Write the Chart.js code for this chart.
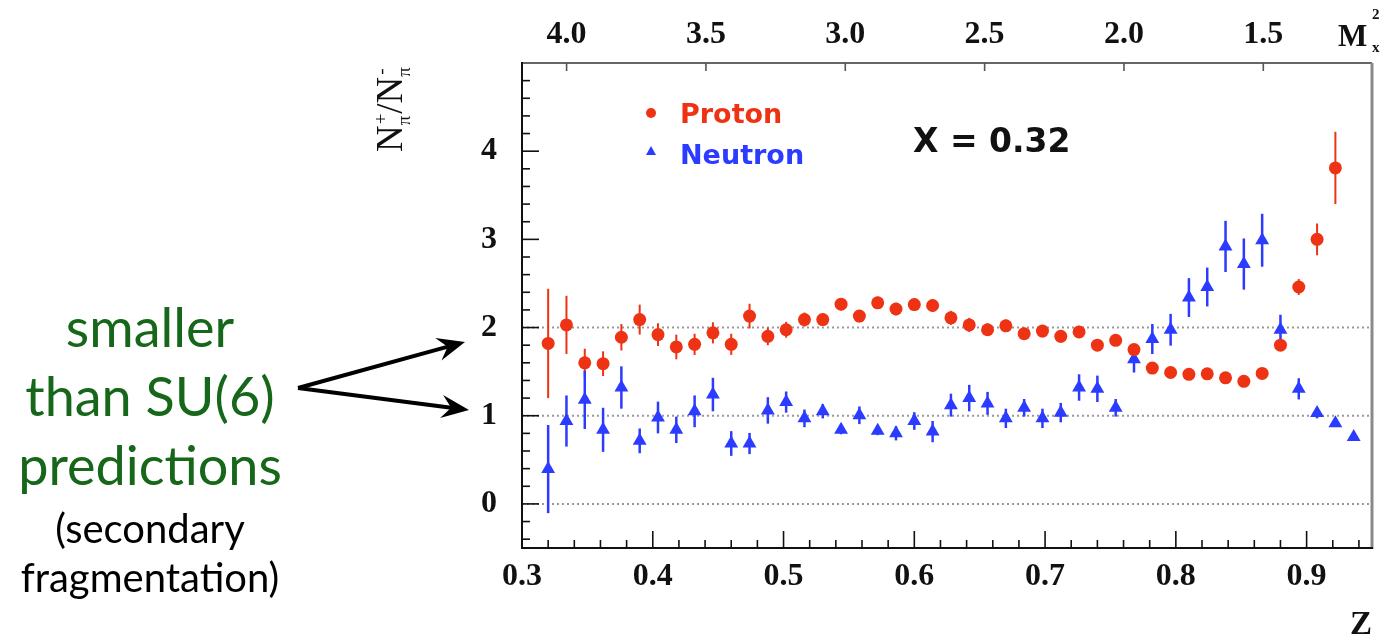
<!DOCTYPE html>
<html>
<head>
<meta charset="utf-8">
<script src="https://cdn.jsdelivr.net/npm/chart.js"></script>
<style>
  html, body { margin: 0; padding: 0; background: #fff; }
</style>
</head>
<body>
<canvas id="ratioChart" width="1386" height="640"></canvas>

<script>
// z bin centres
var zBins = [0.320, 0.334, 0.348, 0.362, 0.376, 0.390, 0.404, 0.418, 0.432, 0.446,
             0.460, 0.474, 0.488, 0.502, 0.516, 0.530, 0.544, 0.558, 0.572, 0.586,
             0.600, 0.614, 0.628, 0.642, 0.656, 0.670, 0.684, 0.698, 0.712, 0.726,
             0.740, 0.754, 0.768, 0.782, 0.796, 0.810, 0.824, 0.838, 0.852, 0.866,
             0.880, 0.894, 0.908, 0.922, 0.936];

// N(pi+)/N(pi-) for the proton target
var protonRatio = [1.82, 2.03, 1.60, 1.59, 1.89, 2.09, 1.92, 1.78, 1.81, 1.94,
                   1.81, 2.13, 1.90, 1.975, 2.09, 2.09, 2.265, 2.13, 2.28, 2.21,
                   2.26, 2.25, 2.11, 2.03, 1.975, 2.02, 1.93, 1.96, 1.90, 1.95,
                   1.80, 1.855, 1.75, 1.54, 1.49, 1.47, 1.475, 1.43, 1.39, 1.48,
                   1.80, 2.46, 3.00, 3.81];
var protonErr = [0.62, 0.33, 0.16, 0.14, 0.15, 0.17, 0.13, 0.14, 0.12, 0.12,
                 0.12, 0.14, 0.10, 0.09, 0.08, 0.07, 0.07, 0.07, 0.07, 0.07,
                 0.07, 0.07, 0.08, 0.08, 0.07, 0.07, 0.07, 0.07, 0.07, 0.07,
                 0.06, 0.06, 0.06, 0.05, 0.05, 0.05, 0.05, 0.05, 0.05, 0.05,
                 0.06, 0.09, 0.18, 0.41];

// N(pi+)/N(pi-) for the neutron
var neutronRatio = [0.395, 0.94, 1.18, 0.84, 1.32, 0.715, 0.98, 0.84, 1.05, 1.24,
                    0.685, 0.685, 1.06, 1.155, 0.97, 1.05, 0.84, 1.005, 0.83, 0.80,
                    0.94, 0.82, 1.12, 1.20, 1.14, 0.97, 1.09, 0.97, 1.035, 1.32,
                    1.305, 1.09, 1.64, 1.87, 1.975, 2.34, 2.46, 2.92, 2.72, 2.99,
                    1.975, 1.305, 1.03, 0.915, 0.76];
var neutronErr = [0.50, 0.29, 0.33, 0.25, 0.24, 0.14, 0.18, 0.15, 0.18, 0.19,
                  0.14, 0.12, 0.15, 0.12, 0.10, 0.08, 0.05, 0.10, 0.05, 0.08,
                  0.10, 0.12, 0.13, 0.15, 0.13, 0.11, 0.10, 0.11, 0.11, 0.15,
                  0.15, 0.10, 0.15, 0.17, 0.18, 0.22, 0.22, 0.29, 0.29, 0.30,
                  0.17, 0.12, 0.06, 0.04, 0.03];

var zTicks = [0.3, 0.4, 0.5, 0.6, 0.7, 0.8, 0.9];
var ratioTicks = [0, 1, 2, 3, 4];
var mxTicks = [4.0, 3.5, 3.0, 2.5, 2.0, 1.5];
var refLines = [0, 1, 2];

var RED = '#ee3314';
var BLUE = '#2b3bff';
var GREEN = '#16671a';
var serif = '"Liberation Serif", "Times New Roman", serif';

function line(ctx, x1, y1, x2, y2) {
    ctx.beginPath();
    ctx.moveTo(x1, y1);
    ctx.lineTo(x2, y2);
    ctx.stroke();
}

function errorBars(ctx, xs, ys, vals, errs, color, width) {
    ctx.save();
    ctx.strokeStyle = color;
    ctx.lineWidth = width;
    for (var i = 0; i < vals.length; i++) {
        var px = xs.getPixelForValue(zBins[i]);
        line(ctx, px, ys.getPixelForValue(vals[i] - errs[i]), px, ys.getPixelForValue(vals[i] + errs[i]));
    }
    ctx.restore();
}

function arrow(ctx, x1, y1, x2, y2) {
    var ang = Math.atan2(y2 - y1, x2 - x1);
    var len = 30, spread = 0.40;
    ctx.beginPath();
    ctx.moveTo(x1, y1);
    ctx.lineTo(x2 - Math.cos(ang) * 12, y2 - Math.sin(ang) * 12);
    ctx.stroke();
    ctx.beginPath();
    ctx.moveTo(x2, y2);
    ctx.lineTo(x2 - len * Math.cos(ang - spread), y2 - len * Math.sin(ang - spread));
    ctx.lineTo(x2 - 18 * Math.cos(ang), y2 - 18 * Math.sin(ang));
    ctx.lineTo(x2 - len * Math.cos(ang + spread), y2 - len * Math.sin(ang + spread));
    ctx.closePath();
    ctx.fill();
}

var decor = {
    id: 'decor',
    beforeDatasetsDraw: function(chart) {
        var ctx = chart.ctx, a = chart.chartArea, x = chart.scales.x, y = chart.scales.y;
        // dotted reference lines
        ctx.save();
        ctx.strokeStyle = '#999';
        ctx.lineWidth = 2;
        ctx.setLineDash([2, 3]);
        refLines.forEach(function(v) {
            var py = y.getPixelForValue(v);
            line(ctx, a.left, py, a.right, py);
        });
        ctx.restore();
        errorBars(ctx, x, y, protonRatio, protonErr, RED, 2);
        errorBars(ctx, x, y, neutronRatio, neutronErr, BLUE, 2.5);
    },
    afterDraw: function(chart) {
        var ctx = chart.ctx, a = chart.chartArea;
        var x = chart.scales.x, y = chart.scales.y, x2 = chart.scales.x2;
        ctx.save();

        // frame
        ctx.lineWidth = 2;
        ctx.strokeStyle = '#666';
        line(ctx, a.left, a.top, a.right, a.top);
        ctx.strokeStyle = '#8a8a8a';
        ctx.lineWidth = 3;
        line(ctx, a.right, a.top, a.right, a.bottom + 1);
        ctx.strokeStyle = '#111';
        ctx.lineWidth = 2;
        line(ctx, a.left, a.top - 1, a.left, a.bottom + 1);
        line(ctx, a.left - 1, a.bottom, a.right + 1, a.bottom);

        // inward ticks, bottom axis
        ctx.lineWidth = 1.6;
        for (var k = 0; k <= 32; k++) {
            var zv = 0.3 + k * 0.02;
            if (zv > x.max + 1e-9) break;
            var px = x.getPixelForValue(zv);
            var major = (k % 5 === 0);
            line(ctx, px, a.bottom, px, a.bottom - (major ? 17 : 8));
        }
        // inward ticks, left axis
        for (var m = -2; m <= 24; m++) {
            var yv = m * 0.2;
            var py = y.getPixelForValue(yv);
            var maj = (m % 5 === 0);
            line(ctx, a.left, py, a.left + (maj ? 17 : 8), py);
        }
        // top axis ticks
        ctx.strokeStyle = '#555';
        mxTicks.forEach(function(v) {
            var p = x2.getPixelForValue(v);
            line(ctx, p, a.top, p, a.top + 8);
        });

        // axis titles
        ctx.fillStyle = '#111';
        ctx.textBaseline = 'alphabetic';
        ctx.textAlign = 'center';
        ctx.font = 'bold 33px ' + serif;
        ctx.fillText('Z', 1361, 634);
        ctx.textAlign = 'left';
        ctx.font = 'bold 31px ' + serif;
        ctx.fillText('M', 1338, 46);
        ctx.font = 'bold 15px ' + serif;
        ctx.fillText('2', 1372, 19);
        ctx.fillText('x', 1372, 52);

        // rotated y title: N_pi^+ / N_pi^-
        ctx.save();
        ctx.translate(402, 152);
        ctx.rotate(-Math.PI / 2);
        var big = '37px ' + serif, small = '19px ' + serif;
        var u = 0;
        ctx.font = big; ctx.fillText('N', u, 0); u += ctx.measureText('N').width;
        ctx.font = small; ctx.fillText('\u03c0', u, 8);
        ctx.fillText('+', u + 1, -15); u += ctx.measureText('\u03c0').width + 2;
        ctx.font = big; ctx.fillText('/', u, 0); u += ctx.measureText('/').width;
        ctx.fillText('N', u, 0); u += ctx.measureText('N').width;
        ctx.font = small; ctx.fillText('\u03c0', u, 8);
        ctx.fillText('-', u + 2, -15);
        ctx.restore();

        // legend
        ctx.fillStyle = RED;
        ctx.beginPath();
        ctx.arc(651, 113, 5, 0, Math.PI * 2);
        ctx.fill();
        ctx.font = 'bold 27px "DejaVu Sans", sans-serif';
        ctx.fillText('Proton', 680, 123);
        ctx.fillStyle = BLUE;
        ctx.beginPath();
        ctx.moveTo(651, 146);
        ctx.lineTo(656, 155);
        ctx.lineTo(646, 155);
        ctx.closePath();
        ctx.fill();
        ctx.fillText('Neutron', 680, 164);

        ctx.fillStyle = '#111';
        ctx.font = 'bold 33px "DejaVu Sans", sans-serif';
        ctx.fillText('X = 0.32', 913, 152);

        // side note and arrows
        ctx.textAlign = 'center';
        ctx.fillStyle = GREEN;
        ctx.font = '54px Lato, "Open Sans", sans-serif';
        ctx.fillText('smaller', 150, 347);
        ctx.fillText('than SU(6)', 150, 416);
        ctx.fillText('predictions', 150, 485);
        ctx.fillStyle = '#000';
        ctx.font = '40px Lato, "Open Sans", sans-serif';
        ctx.fillText('(secondary', 150, 543);
        ctx.fillText('fragmentation)', 150, 592);

        ctx.strokeStyle = '#000';
        ctx.fillStyle = '#000';
        ctx.lineWidth = 4;
        arrow(ctx, 298, 388, 465, 342);
        arrow(ctx, 298, 388, 469, 410);

        ctx.restore();
    }
};

var tickFont = { family: serif, size: 32, weight: 'bold' };

var ctx = document.getElementById('ratioChart').getContext('2d');
var chart = new Chart(ctx, {
    type: 'scatter',
    data: {
        datasets: [{
            label: 'Proton',
            data: protonRatio.map(function(v, i) { return { x: zBins[i], y: v }; }),
            pointStyle: 'circle',
            pointRadius: 6.5,
            pointHoverRadius: 6.5,
            backgroundColor: RED,
            borderColor: RED,
            borderWidth: 0
        }, {
            label: 'Neutron',
            data: neutronRatio.map(function(v, i) { return { x: zBins[i], y: v }; }),
            pointStyle: 'triangle',
            pointRadius: 8,
            pointHoverRadius: 8,
            backgroundColor: BLUE,
            borderColor: BLUE,
            borderWidth: 0
        }]
    },
    options: {
        responsive: false,
        animation: false,
        devicePixelRatio: 1,
        layout: { padding: { left: 0, right: 14, top: 0, bottom: 0 } },
        plugins: {
            legend: { display: false },
            tooltip: { enabled: false }
        },
        scales: {
            x: {
                type: 'linear',
                position: 'bottom',
                min: 0.3,
                max: 0.95,
                grid: { display: false, drawTicks: false },
                border: { display: false },
                afterBuildTicks: function(s) { s.ticks = zTicks.map(function(v) { return { value: v }; }); },
                afterFit: function(s) { s.height = 92; },
                ticks: {
                    font: tickFont,
                    color: '#111',
                    padding: 10,
                    maxRotation: 0,
                    callback: function(v) { return Number(v).toFixed(1); }
                }
            },
            x2: {
                type: 'linear',
                axis: 'x',
                position: 'top',
                reverse: true,
                min: 1.11,
                max: 4.16,
                grid: { display: false, drawTicks: false },
                border: { display: false },
                afterBuildTicks: function(s) { s.ticks = mxTicks.map(function(v) { return { value: v }; }); },
                afterFit: function(s) { s.height = 63; },
                ticks: {
                    font: tickFont,
                    color: '#111',
                    padding: 9,
                    maxRotation: 0,
                    callback: function(v) { return Number(v).toFixed(1); }
                }
            },
            y: {
                type: 'linear',
                position: 'left',
                min: -0.5,
                max: 5,
                grid: { display: false, drawTicks: false },
                border: { display: false },
                afterBuildTicks: function(s) { s.ticks = ratioTicks.map(function(v) { return { value: v }; }); },
                afterFit: function(s) { s.width = 522; },
                ticks: {
                    font: tickFont,
                    color: '#111',
                    padding: 25
                }
            }
        }
    },
    plugins: [decor]
});
</script>
</body>
</html>
